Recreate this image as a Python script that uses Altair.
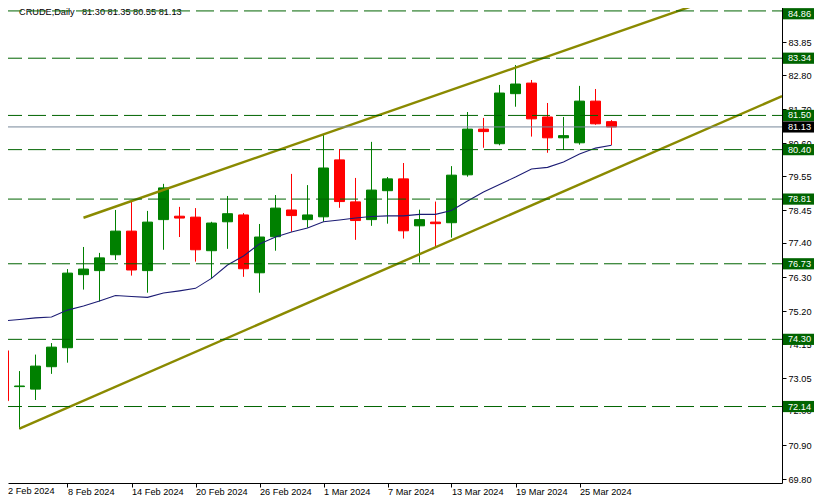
import altair as alt
import pandas as pd

# ---------------- data ----------------
symbol = "CRUDE"
timeframe = "Daily"

date_labels = ["2 Feb 2024", "8 Feb 2024", "14 Feb 2024", "20 Feb 2024", "26 Feb 2024",
               "1 Mar 2024", "7 Mar 2024", "13 Mar 2024", "19 Mar 2024", "25 Mar 2024"]
date_label_bars = [0, 4, 8, 12, 16, 20, 24, 28, 32, 36]

opens = [73.93, 72.78, 72.70, 73.42, 74.03, 76.38, 76.51, 77.02, 77.78, 76.51,
         78.15, 78.26, 78.23, 77.15, 78.08, 78.30, 76.44, 77.60, 78.46, 78.15,
         78.24, 80.07, 78.72, 78.15, 79.08, 79.46, 77.95, 78.07, 78.05, 79.59,
         81.06, 80.59, 82.20, 82.54, 81.45, 80.78, 80.62, 81.96, 81.30]
highs = [74.51, 73.28, 73.81, 74.18, 76.56, 77.27, 77.08, 78.46, 78.78, 78.43,
         79.30, 78.56, 78.52, 78.08, 78.91, 78.36, 78.01, 78.94, 79.62, 79.26,
         80.87, 80.42, 79.49, 80.65, 79.52, 79.97, 78.47, 78.73, 79.87, 81.61,
         81.42, 82.48, 83.12, 82.64, 81.90, 81.45, 82.45, 82.35, 81.35]
lows = [71.79, 71.41, 72.35, 73.19, 73.55, 75.90, 75.52, 76.85, 76.35, 75.80,
        77.18, 77.59, 76.80, 76.26, 77.21, 76.31, 75.80, 77.15, 77.76, 77.89,
        78.08, 78.53, 77.50, 77.95, 78.02, 77.54, 76.77, 77.28, 77.57, 79.53,
        80.46, 80.54, 81.78, 80.82, 80.30, 80.39, 80.56, 81.20, 80.55]
closes = [72.33, 72.80, 73.44, 74.05, 76.43, 76.56, 76.92, 77.78, 76.53, 78.07,
          79.17, 78.20, 77.18, 78.04, 78.34, 76.57, 77.59, 78.52, 78.28, 78.30,
          79.81, 78.73, 78.12, 79.10, 79.46, 77.79, 78.15, 78.02, 79.58, 81.06,
          80.98, 82.22, 82.51, 81.39, 80.78, 80.85, 81.96, 81.23, 81.13]
moving_avg = [74.89, 74.94, 74.99, 75.02, 75.24, 75.37, 75.53, 75.71, 75.68, 75.65,
              75.79, 75.86, 75.94, 76.26, 76.69, 76.98, 77.37, 77.59, 77.75, 77.88,
              78.08, 78.14, 78.20, 78.25, 78.27, 78.27, 78.32, 78.32, 78.44, 78.75,
              79.04, 79.28, 79.52, 79.78, 79.83, 80.00, 80.26, 80.45, 80.54]

levels = [84.86, 83.34, 81.50, 80.40, 78.81, 76.73, 74.30, 72.14]
last_price = 81.13
y_ticks = [69.80, 70.90, 72.00, 73.05, 74.15, 75.20, 76.30, 77.40, 78.45,
           79.55, 80.60, 81.70, 82.80, 83.85]

upper_channel_bar = [5.0, 48.66]
upper_channel_price = [78.21, 86.02]
lower_channel_bar = [1.0, 48.66]
lower_channel_price = [71.43, 82.12]

# ---------------- styles ----------------
FONT = "Liberation Sans"
FS = 9.2
BULL = "#008000"
BEAR = "#FF0000"
LEVEL = "#006400"
MA_COLOR = "#1C1C74"
CHANNEL = "#8A8A00"
BID = "#778899"

W, H = 774, 483
X_MIN = 0.28125
xs = alt.Scale(domain=[X_MIN, 48.65625], nice=False, zero=False, padding=0)
ys = alt.Scale(domain=[69.681, 85.2116], nice=False, zero=False, padding=0)

# ticks inside the visible domain go on the axis; the first date sits at the left edge
axis_bars = [b for b in date_label_bars if b >= X_MIN]
label_expr = "[" + ",".join("'%s'" % d for d in date_labels) + "][round(datum.value/4)]"

x_axis = alt.Axis(values=axis_bars, labelExpr=label_expr, orient="bottom",
                  tickSize=4, labelPadding=0, labelAlign="left", labelBaseline="top",
                  labelFlush=False, labelOverlap=False, grid=False,
                  domainColor="black", tickColor="black", labelColor="black",
                  labelFont=FONT, labelFontSize=FS, title=None, zindex=0)
y_axis = alt.Axis(values=y_ticks, format=".2f", orient="right",
                  tickSize=4, labelPadding=2, labelFlush=False, labelOverlap=False,
                  grid=False, domainColor="black", tickColor="black", labelColor="black",
                  labelFont=FONT, labelFontSize=FS, title=None, zindex=0)


def X(field):
    return alt.X(field, scale=xs, axis=x_axis)


def Y(field):
    return alt.Y(field, scale=ys, axis=y_axis)


candles = pd.DataFrame({"i": list(range(len(opens))), "open": opens, "high": highs,
                        "low": lows, "close": closes, "ma": moving_avg})

up = "datum.close >= datum.open"

wicks = alt.Chart(candles).mark_rule(strokeWidth=1).encode(
    x=X("i:Q"), y=Y("low:Q"), y2="high:Q",
    color=alt.condition(up, alt.value(BULL), alt.value(BEAR)),
)
bodies = alt.Chart(candles).mark_bar(size=10, strokeWidth=1).encode(
    x=X("i:Q"), y=Y("open:Q"), y2="close:Q",
    fill=alt.condition(up, alt.value(BULL), alt.value(BEAR)),
    stroke=alt.condition(up, alt.value(BULL), alt.value(BEAR)),
)
ma_line = alt.Chart(candles).mark_line(color=MA_COLOR, strokeWidth=1.1).encode(
    x=X("i:Q"), y=Y("ma:Q"),
)

chan = pd.DataFrame({
    "bar": upper_channel_bar + lower_channel_bar,
    "price": upper_channel_price + lower_channel_price,
    "line": ["upper"] * len(upper_channel_bar) + ["lower"] * len(lower_channel_bar),
})
channel = alt.Chart(chan).mark_line(color=CHANNEL, strokeWidth=2.4, clip=True).encode(
    x=X("bar:Q"), y=Y("price:Q"), detail="line:N",
)

lv = pd.DataFrame({"p": levels})
level_rules = alt.Chart(lv).mark_rule(color=LEVEL, strokeWidth=1, strokeDash=[18, 6],
                                      strokeDashOffset=8).encode(y=Y("p:Q"))
bid_rule = alt.Chart(pd.DataFrame({"p": [last_price]})).mark_rule(
    color=BID, strokeWidth=1).encode(y=Y("p:Q"))

boxes_df = pd.DataFrame({"p": levels + [last_price],
                         "kind": ["level"] * len(levels) + ["bid"]})
boxes = alt.Chart(boxes_df).transform_calculate(
    c="min(datum.p, 84.77)"
).transform_calculate(
    lo="datum.c - 0.18", hi="datum.c + 0.18"
).mark_rect().encode(
    x=alt.value(775), x2=alt.value(806),
    y=Y("lo:Q"), y2="hi:Q",
    color=alt.condition("datum.kind == 'bid'", alt.value("black"), alt.value(LEVEL)),
)
box_text = alt.Chart(boxes_df).transform_calculate(
    c="min(datum.p, 84.77)"
).mark_text(align="left", baseline="middle", color="white",
            font=FONT, fontSize=FS).encode(
    x=alt.value(780), y=Y("c:Q"),
    text=alt.Text("p:Q", format=".2f"),
)

first_date = alt.Chart(pd.DataFrame({"t": [date_labels[0]]})).mark_text(
    align="left", baseline="top", font=FONT, fontSize=FS, color="black"
).encode(x=alt.value(0), y=alt.value(H + 4), text="t:N")

title_df = pd.DataFrame({
    "t": ["%s,%s" % (symbol, timeframe),
          "%.2f %.2f %.2f %.2f" % (opens[-1], highs[-1], lows[-1], closes[-1])],
    "k": ["name", "ohlc"],
})
title_name = alt.Chart(title_df).transform_filter("datum.k == 'name'").mark_text(
    align="left", baseline="middle", font=FONT, fontSize=FS, color="black"
).encode(x=alt.value(11), y=alt.value(12), text="t:N")
title_ohlc = alt.Chart(title_df).transform_filter("datum.k == 'ohlc'").mark_text(
    align="left", baseline="middle", font=FONT, fontSize=FS, color="black"
).encode(x=alt.value(74), y=alt.value(12), text="t:N")

chart = alt.layer(
    title_name, title_ohlc, wicks, bodies, ma_line, channel, level_rules, bid_rule,
    boxes, box_text, first_date,
).properties(
    width=W, height=H,
    padding={"left": 0, "top": -8, "right": 32, "bottom": 13},
    autosize=alt.AutoSizeParams(type="none"),
    background="white",
).configure_view(stroke=None)

chart.save("out.html", embed_options={"renderer": "svg", "actions": False})
